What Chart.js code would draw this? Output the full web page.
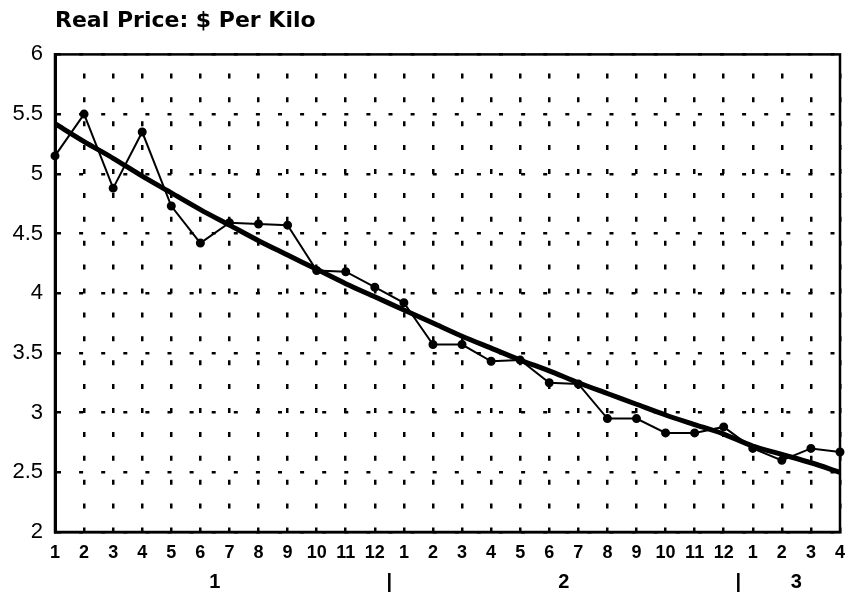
<!DOCTYPE html>
<html>
<head>
<meta charset="utf-8">
<script src="https://cdn.jsdelivr.net/npm/chart.js@4/dist/chart.umd.min.js"></script>
<style>
  html, body { margin: 0; padding: 0; background: #fff; }
  #wrap { width: 855px; height: 596px; }
</style>
</head>
<body>
<div id="wrap"><canvas id="priceChart" width="855" height="596"></canvas></div>
<script>
// months along the bottom, three years
const months = ['1','2','3','4','5','6','7','8','9','10','11','12',
                '1','2','3','4','5','6','7','8','9','10','11','12',
                '1','2','3','4'];
// real price, $ per kilo
const price = [5.15, 5.50, 4.88, 5.35, 4.73, 4.42, 4.59, 4.58, 4.57, 4.19, 4.18, 4.05,
               3.92, 3.57, 3.57, 3.43, 3.44, 3.25, 3.24, 2.95, 2.95, 2.83, 2.83, 2.88,
               2.70, 2.60, 2.70, 2.67];
// fitted trend (heavy line)
const trend = [5.42, 5.27, 5.13, 4.98, 4.84, 4.70, 4.57, 4.44, 4.32, 4.20, 4.08, 3.97,
               3.86, 3.75, 3.64, 3.54, 3.44, 3.35, 3.25, 3.16, 3.07, 2.98, 2.90, 2.82,
               2.72, 2.65, 2.58, 2.50];
// year row under the months
const yearLabels = ['1', '|', '2', '|', '3'];
const yearPos = [5.5, 11.5, 17.5, 23.5, 25.5];

// box round the plot area
const frame = {
  id: 'frame',
  afterDraw(chart) {
    const a = chart.chartArea, ctx = chart.ctx;
    ctx.save();
    ctx.strokeStyle = '#000';
    ctx.lineWidth = 2.5;
    ctx.strokeRect(a.left, a.top, a.right - a.left, a.bottom - a.top);
    ctx.restore();
  }
};

const ctx = document.getElementById('priceChart').getContext('2d');
new Chart(ctx, {
  type: 'line',
  data: {
    labels: months,
    datasets: [
      {
        label: 'Trend',
        data: trend,
        borderColor: '#000',
        borderWidth: 5,
        pointRadius: 0,
        tension: 0.3,
        clip: false
      },
      {
        label: 'Real price',
        data: price,
        borderColor: '#000',
        backgroundColor: '#000',
        borderWidth: 2,
        pointRadius: 3.5,
        pointBackgroundColor: '#000',
        tension: 0,
        clip: false
      }
    ]
  },
  options: {
    responsive: false,
    animation: false,
    layout: { padding: { left: 0, right: 5, top: 0, bottom: 0 } },
    plugins: {
      legend: { display: false },
      tooltip: { enabled: false },
      title: {
        display: true,
        fullSize: false,
        align: 'start',
        text: 'Real Price: $ Per Kilo',
        color: '#000',
        font: { family: 'DejaVu Sans', size: 22, weight: 'bold' },
        padding: { top: 8, bottom: 20 }
      }
    },
    scales: {
      x: {
        type: 'category',
        offset: false,
        grid: {
          color: '#000',
          lineWidth: 2.5,
          drawTicks: false
        },
        border: { color: '#000', width: 2.5, dash: [5, 18.9], dashOffset: 4.9 },
        ticks: {
          color: '#000',
          autoSkip: false,
          maxRotation: 0,
          minRotation: 0,
          padding: 10,
          font: { family: 'Liberation Sans', size: 18, weight: 'bold' }
        },
        afterFit(scale) { scale.height = 34; }
      },
      years: {
        type: 'linear',
        position: 'bottom',
        min: 0,
        max: 27,
        grid: { display: false, drawTicks: false },
        border: { display: false },
        afterBuildTicks(axis) {
          axis.ticks = yearPos.map(v => ({ value: v }));
        },
        ticks: {
          color: '#000',
          autoSkip: false,
          maxRotation: 0,
          padding: 4,
          font: { family: 'Liberation Sans', size: 20, weight: 'bold' },
          callback: (v, i) => yearLabels[i]
        },
        afterFit(scale) { scale.height = 30; }
      },
      y: {
        min: 2,
        max: 6,
        grid: {
          color: '#000',
          lineWidth: 2.5,
          drawTicks: false
        },
        border: { color: '#000', width: 3, dash: [4, 18.1] },
        ticks: {
          stepSize: 0.5,
          color: '#000',
          padding: 12,
          font: { family: 'Liberation Sans', size: 22 },
          callback: v => String(v)
        },
        afterFit(scale) { scale.width = 55; }
      }
    }
  },
  plugins: [frame]
});
</script>
</body>
</html>
